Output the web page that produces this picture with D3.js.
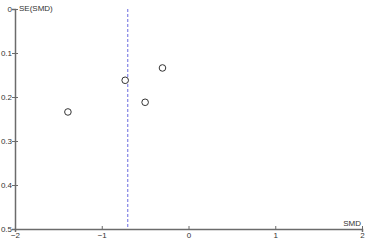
<!DOCTYPE html>
<html>
<head>
<meta charset="utf-8">
<script src="https://cdn.jsdelivr.net/npm/d3@7"></script>
<style>
  body { margin: 0; background: #fff; }
  svg { display: block; font-family: "Liberation Sans", Arial, sans-serif; }
</style>
</head>
<body>
<div id="chart"></div>
<script>
const smd = [-1.39, -0.73, -0.50, -0.30]
const se = [0.234, 0.162, 0.212, 0.134]
const pooledSmd = -0.70
const xTicks = [-2, -1, 0, 1, 2]
const yTicks = [0, 0.1, 0.2, 0.3, 0.4, 0.5]

const width = 365
const height = 241
const margin = { top: 9, right: 3, bottom: 12, left: 15 }

const x = d3.scaleLinear().domain([-2, 2]).range([margin.left, width - margin.right])
const y = d3.scaleLinear().domain([0, 0.5]).range([margin.top, height - margin.bottom])

const svg = d3.select("#chart")
  .append("svg")
  .attr("width", width)
  .attr("height", height)

const axisColor = "#6b6b6b"

// x axis
const xAxis = svg.append("g")
  .attr("transform", `translate(0,${y(0.5)})`)
  .call(d3.axisBottom(x).tickValues(xTicks).tickSize(3).tickFormat(d3.format("d")))
xAxis.select(".domain").attr("stroke", axisColor).attr("stroke-width", 1.5)
xAxis.selectAll(".tick line").attr("stroke", axisColor).attr("y1", -3).attr("y2", 0)
xAxis.selectAll(".tick text")
  .attr("y", 3).attr("dy", "0.71em")
  .attr("font-size", "8px").attr("fill", "#333")
  .attr("font-family", "Liberation Sans, Arial, sans-serif")

// y axis
const yAxis = svg.append("g")
  .attr("transform", `translate(${x(-2)},0)`)
  .call(d3.axisLeft(y).tickValues(yTicks).tickSize(3).tickFormat(d => d === 0 ? "0" : d3.format(".1f")(d)))
yAxis.select(".domain").attr("stroke", axisColor).attr("stroke-width", 1.5)
yAxis.selectAll(".tick line").attr("stroke", axisColor).attr("x1", 3).attr("x2", -3)
yAxis.selectAll(".tick text")
  .attr("x", -3)
  .attr("font-size", "8px").attr("fill", "#333")
  .attr("font-family", "Liberation Sans, Arial, sans-serif")

svg.append("text")
  .attr("x", x(-2) + 4)
  .attr("y", y(0) + 2)
  .attr("font-size", "8px")
  .attr("fill", "#333")
  .text("SE(SMD)")

svg.append("text")
  .attr("x", x(2) - 1)
  .attr("y", y(0.5) - 3)
  .attr("text-anchor", "end")
  .attr("font-size", "8px")
  .attr("fill", "#333")
  .text("SMD")

// pooled estimate line
svg.append("line")
  .attr("x1", x(pooledSmd)).attr("x2", x(pooledSmd))
  .attr("y1", y(0)).attr("y2", y(0.5))
  .attr("stroke", "#6a6ae0")
  .attr("stroke-width", 1)
  .attr("stroke-dasharray", "3,2")

// studies
svg.append("g")
  .selectAll("circle")
  .data(smd.map((d, i) => ({ smd: d, se: se[i] })))
  .enter()
  .append("circle")
  .attr("cx", d => x(d.smd))
  .attr("cy", d => y(d.se))
  .attr("r", 3.3)
  .attr("fill", "#fff")
  .attr("stroke", "#333")
  .attr("stroke-width", 1)
</script>
</body>
</html>
